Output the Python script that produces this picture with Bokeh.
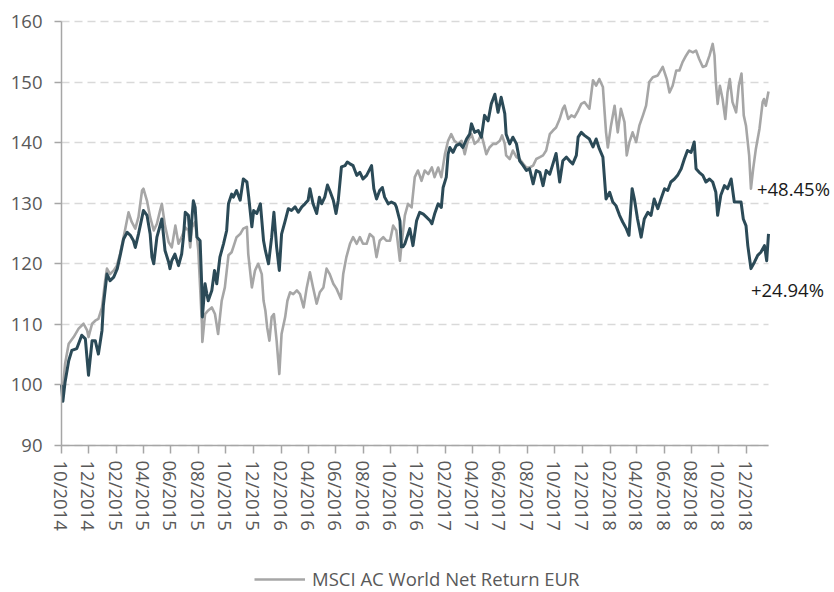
import pandas as pd
from bokeh.plotting import figure
from bokeh.models import (Range1d, FixedTicker, DatetimeTickFormatter, Legend,
                          LegendItem, Label, ColumnDataSource)
from bokeh.embed import file_html
from bokeh.resources import INLINE

# ---------------- data ----------------
dark_dates = [
    "2014-10-01", "2014-10-04", "2014-10-09", "2014-10-17", "2014-10-24", "2014-11-04", "2014-11-15",
    "2014-11-23", "2014-11-30", "2014-12-08", "2014-12-15", "2014-12-22", "2014-12-30", "2015-01-02",
    "2015-01-10", "2015-01-17", "2015-01-25", "2015-02-02", "2015-02-09", "2015-02-16", "2015-02-24",
    "2015-03-03", "2015-03-10", "2015-03-14", "2015-03-21", "2015-03-29", "2015-04-01", "2015-04-09",
    "2015-04-16", "2015-04-20", "2015-04-24", "2015-05-01", "2015-05-08", "2015-05-12", "2015-05-19",
    "2015-05-27", "2015-05-30", "2015-06-03", "2015-06-10", "2015-06-18", "2015-06-25", "2015-06-29",
    "2015-07-03", "2015-07-10", "2015-07-14", "2015-07-18", "2015-07-21", "2015-07-25", "2015-07-29",
    "2015-08-05", "2015-08-09", "2015-08-10", "2015-08-16", "2015-08-20", "2015-08-23", "2015-08-31",
    "2015-09-06", "2015-09-11", "2015-09-18", "2015-09-26", "2015-10-03", "2015-10-07", "2015-10-14",
    "2015-10-18", "2015-10-25", "2015-11-02", "2015-11-09", "2015-11-17", "2015-11-21", "2015-11-28",
    "2015-12-02", "2015-12-09", "2015-12-17", "2015-12-24", "2015-12-28", "2016-01-04", "2016-01-11",
    "2016-01-16", "2016-01-22", "2016-01-28", "2016-02-02", "2016-02-10", "2016-02-17", "2016-02-24",
    "2016-03-03", "2016-03-10", "2016-03-18", "2016-03-25", "2016-04-01", "2016-04-05", "2016-04-12",
    "2016-04-20", "2016-04-26", "2016-05-01", "2016-05-08", "2016-05-14", "2016-05-19", "2016-05-27",
    "2016-06-02", "2016-06-07", "2016-06-14", "2016-06-22", "2016-06-27", "2016-07-03", "2016-07-10",
    "2016-07-18", "2016-07-25", "2016-08-01", "2016-08-09", "2016-08-20", "2016-08-25", "2016-08-31",
    "2016-09-07", "2016-09-13", "2016-09-18", "2016-09-26", "2016-10-03", "2016-10-11", "2016-10-14",
    "2016-10-22", "2016-10-25", "2016-10-29", "2016-11-02", "2016-11-09", "2016-11-13", "2016-11-20",
    "2016-11-28", "2016-12-05", "2016-12-13", "2016-12-20", "2016-12-28", "2017-01-01", "2017-01-07",
    "2017-01-15", "2017-01-22", "2017-01-26", "2017-02-02", "2017-02-06", "2017-02-10", "2017-02-17",
    "2017-02-24", "2017-03-04", "2017-03-11", "2017-03-19", "2017-03-26", "2017-03-30", "2017-04-06",
    "2017-04-14", "2017-04-21", "2017-04-28", "2017-05-06", "2017-05-13", "2017-05-21", "2017-05-28",
    "2017-06-04", "2017-06-12", "2017-06-15", "2017-06-23", "2017-06-30", "2017-07-08", "2017-07-15",
    "2017-07-23", "2017-07-30", "2017-08-06", "2017-08-14", "2017-08-21", "2017-08-29", "2017-09-05",
    "2017-09-12", "2017-09-20", "2017-09-27", "2017-10-04", "2017-10-12", "2017-10-19", "2017-10-27",
    "2017-11-03", "2017-11-10", "2017-11-18", "2017-11-22", "2017-11-29", "2017-12-06", "2017-12-17",
    "2017-12-25", "2018-01-01", "2018-01-08", "2018-01-16", "2018-01-23", "2018-01-31", "2018-02-07",
    "2018-02-14", "2018-02-22", "2018-03-01", "2018-03-09", "2018-03-15", "2018-03-22", "2018-03-27",
    "2018-04-03", "2018-04-11", "2018-04-18", "2018-04-26", "2018-05-03", "2018-05-10", "2018-05-18",
    "2018-05-25", "2018-06-02", "2018-06-09", "2018-06-16", "2018-06-24", "2018-07-01", "2018-07-09",
    "2018-07-16", "2018-07-23", "2018-07-31", "2018-08-07", "2018-08-11", "2018-08-18", "2018-08-26",
    "2018-09-02", "2018-09-10", "2018-09-17", "2018-09-24", "2018-09-28", "2018-10-05", "2018-10-13",
    "2018-10-20", "2018-10-28", "2018-11-04", "2018-11-11", "2018-11-19", "2018-11-24", "2018-11-30",
    "2018-12-04", "2018-12-11", "2018-12-19", "2018-12-26", "2019-01-02", "2019-01-10", "2019-01-15",
    "2019-01-19",
]
dark_values = [
    100.0, 97.3, 100.5, 104.0, 105.7, 106.0, 108.2,
    107.6, 101.6, 107.3, 107.3, 105.1, 109.0, 113.1,
    118.3, 117.2, 117.8, 119.2, 121.6, 124.1, 125.2,
    124.7, 123.8, 122.7, 124.9, 127.7, 128.8, 128.0,
    124.9, 121.1, 120.0, 124.4, 126.3, 127.4, 122.2,
    120.3, 119.2, 120.5, 121.6, 119.7, 121.6, 124.4,
    128.5, 128.0, 123.8, 127.7, 130.4, 129.3, 124.4,
    123.8, 115.6, 111.2, 116.7, 115.0, 113.9, 115.6,
    118.9, 116.7, 121.1, 123.3, 125.5, 129.9, 131.5,
    131.0, 132.1, 130.5, 134.0, 133.5, 131.0, 126.1,
    128.8, 128.3, 129.9, 123.8, 122.2, 120.0, 124.4,
    128.5, 122.8, 118.9, 124.9, 127.1, 129.1, 128.8,
    129.4, 128.5, 129.4, 129.9, 130.5, 132.4, 129.9,
    128.3, 131.0, 129.9, 131.0, 133.0, 132.1, 130.5,
    128.3, 130.5, 136.0, 136.2, 136.8, 136.5, 136.2,
    134.6, 135.1, 134.0, 134.6, 136.2, 132.4, 130.7,
    132.1, 132.6, 131.0, 129.9, 130.2, 129.9, 129.4,
    127.1, 122.8, 122.8, 123.3, 124.9, 125.8, 123.0,
    127.1, 128.5, 128.2, 127.7, 127.1, 126.6, 128.2,
    129.9, 129.3, 132.6, 134.3, 138.1, 139.2, 138.4,
    139.5, 139.8, 139.2, 140.6, 141.4, 143.1, 141.7,
    142.0, 140.9, 144.5, 143.6, 146.4, 148.0, 145.0,
    147.5, 144.8, 141.4, 139.8, 140.9, 139.8, 137.0,
    136.2, 135.4, 135.7, 133.2, 135.4, 135.1, 132.9,
    135.4, 134.8, 136.5, 138.2, 133.5, 137.0, 137.6,
    137.0, 136.5, 137.9, 140.9, 141.7, 141.2, 140.6,
    139.3, 140.6, 139.0, 137.6, 130.7, 131.8, 130.2,
    129.6, 128.0, 126.9, 125.8, 124.7, 132.4, 130.7,
    127.4, 124.4, 127.4, 128.5, 128.0, 130.7, 129.1,
    130.7, 132.4, 132.1, 133.5, 134.0, 134.6, 135.7,
    137.3, 138.7, 138.4, 140.1, 135.7, 135.1, 134.6,
    133.5, 134.0, 133.5, 131.8, 128.0, 131.3, 132.9,
    132.4, 134.0, 130.2, 130.2, 130.2, 127.4, 126.3,
    123.0, 119.2, 120.3, 121.4, 121.9, 123.0, 120.5,
    124.94,
]

grey_dates = [
    "2014-10-01", "2014-10-04", "2014-10-09", "2014-10-17", "2014-10-28", "2014-11-08", "2014-11-19",
    "2014-11-27", "2014-11-30", "2014-12-08", "2014-12-15", "2014-12-22", "2014-12-30", "2015-01-06",
    "2015-01-10", "2015-01-17", "2015-01-25", "2015-02-01", "2015-02-08", "2015-02-19", "2015-02-27",
    "2015-03-06", "2015-03-14", "2015-03-21", "2015-03-29", "2015-04-01", "2015-04-09", "2015-04-16",
    "2015-04-24", "2015-05-01", "2015-05-08", "2015-05-12", "2015-05-19", "2015-05-27", "2015-06-03",
    "2015-06-11", "2015-06-18", "2015-06-25", "2015-07-03", "2015-07-10", "2015-07-14", "2015-07-18",
    "2015-07-25", "2015-08-01", "2015-08-09", "2015-08-10", "2015-08-16", "2015-08-23", "2015-08-31",
    "2015-09-07", "2015-09-14", "2015-09-22", "2015-09-29", "2015-10-07", "2015-10-14", "2015-10-18",
    "2015-10-25", "2015-11-02", "2015-11-09", "2015-11-17", "2015-11-20", "2015-11-28", "2015-12-05",
    "2015-12-12", "2015-12-20", "2015-12-24", "2015-12-28", "2016-01-01", "2016-01-06", "2016-01-11",
    "2016-01-16", "2016-01-22", "2016-01-28", "2016-02-02", "2016-02-10", "2016-02-15", "2016-02-21",
    "2016-02-28", "2016-03-07", "2016-03-14", "2016-03-22", "2016-03-29", "2016-04-05", "2016-04-12",
    "2016-04-20", "2016-04-27", "2016-05-05", "2016-05-12", "2016-05-19", "2016-05-27", "2016-06-03",
    "2016-06-13", "2016-06-18", "2016-06-25", "2016-07-03", "2016-07-10", "2016-07-18", "2016-07-25",
    "2016-08-01", "2016-08-09", "2016-08-16", "2016-08-24", "2016-08-31", "2016-09-07", "2016-09-15",
    "2016-09-22", "2016-09-30", "2016-10-07", "2016-10-14", "2016-10-22", "2016-10-25", "2016-11-02",
    "2016-11-09", "2016-11-17", "2016-11-24", "2016-12-01", "2016-12-09", "2016-12-16", "2016-12-24",
    "2017-01-01", "2017-01-07", "2017-01-15", "2017-01-22", "2017-01-30", "2017-02-06", "2017-02-13",
    "2017-02-20", "2017-02-28", "2017-03-08", "2017-03-15", "2017-03-22", "2017-03-30", "2017-04-06",
    "2017-04-14", "2017-04-21", "2017-05-02", "2017-05-09", "2017-05-17", "2017-05-24", "2017-06-01",
    "2017-06-06", "2017-06-12", "2017-06-15", "2017-06-23", "2017-06-30", "2017-07-08", "2017-07-15",
    "2017-07-23", "2017-07-30", "2017-08-06", "2017-08-14", "2017-08-21", "2017-08-29", "2017-09-05",
    "2017-09-12", "2017-09-20", "2017-09-27", "2017-10-04", "2017-10-12", "2017-10-19", "2017-10-23",
    "2017-10-31", "2017-11-07", "2017-11-14", "2017-11-22", "2017-11-29", "2017-12-06", "2017-12-17",
    "2017-12-25", "2018-01-01", "2018-01-08", "2018-01-16", "2018-01-19", "2018-01-23", "2018-01-27",
    "2018-02-03", "2018-02-11", "2018-02-18", "2018-02-25", "2018-03-05", "2018-03-10", "2018-03-16",
    "2018-03-23", "2018-03-31", "2018-04-07", "2018-04-15", "2018-04-22", "2018-04-29", "2018-05-07",
    "2018-05-18", "2018-05-29", "2018-06-07", "2018-06-13", "2018-06-20", "2018-06-28", "2018-07-05",
    "2018-07-12", "2018-07-20", "2018-07-27", "2018-08-04", "2018-08-11", "2018-08-18", "2018-08-26",
    "2018-09-02", "2018-09-10", "2018-09-17", "2018-09-21", "2018-09-24", "2018-09-28", "2018-10-03",
    "2018-10-09", "2018-10-15", "2018-10-20", "2018-10-25", "2018-10-31", "2018-11-08", "2018-11-14",
    "2018-11-20", "2018-11-25", "2018-11-30", "2018-12-07", "2018-12-11", "2018-12-16", "2018-12-22",
    "2018-12-30", "2019-01-06", "2019-01-09", "2019-01-13", "2019-01-19",
]
grey_values = [
    100.0, 99.5, 103.5, 106.8, 107.9, 109.3, 110.1,
    109.0, 107.9, 110.1, 110.6, 110.9, 112.8, 117.2,
    119.2, 118.3, 118.9, 119.7, 121.6, 125.5, 128.5,
    126.9, 125.8, 127.7, 132.1, 132.4, 130.4, 127.7,
    125.5, 126.6, 128.8, 129.9, 126.3, 123.6, 122.7,
    126.3, 123.3, 124.4, 126.0, 125.5, 122.7, 126.0,
    126.9, 122.2, 110.1, 107.1, 111.7, 112.3, 112.8,
    111.7, 108.4, 113.9, 116.1, 121.4, 121.9, 122.8,
    124.4, 124.9, 125.8, 126.1, 121.6, 116.1, 118.9,
    120.0, 118.3, 113.9, 112.3, 109.5, 107.3, 111.2,
    111.7, 107.3, 101.8, 108.4, 111.2, 113.9, 115.3,
    115.0, 115.6, 115.0, 112.8, 116.1, 118.6, 116.1,
    113.4, 115.3, 116.1, 119.2, 118.3, 116.7, 115.9,
    114.2, 118.3, 121.1, 123.3, 124.4, 123.3, 124.4,
    123.3, 123.3, 124.9, 124.4, 121.1, 123.8, 124.4,
    123.8, 123.8, 126.3, 125.5, 120.5, 122.8, 128.0,
    129.9, 129.3, 134.3, 135.4, 133.7, 135.4, 134.8,
    135.9, 134.3, 135.9, 134.3, 138.1, 140.3, 141.4,
    140.3, 139.8, 140.3, 138.1, 140.3, 141.4, 139.8,
    140.3, 141.4, 138.1, 139.2, 139.8, 139.8, 140.3,
    141.2, 139.8, 137.9, 137.3, 138.7, 137.6, 137.3,
    136.5, 135.9, 135.9, 136.2, 137.3, 137.6, 137.9,
    138.7, 141.4, 142.0, 142.5, 143.9, 145.6, 146.1,
    143.9, 144.5, 144.2, 145.3, 146.4, 146.7, 145.6,
    150.3, 149.4, 150.5, 149.2, 145.9, 141.7, 139.2,
    142.8, 146.1, 141.7, 145.6, 143.4, 137.9, 140.1,
    141.7, 140.1, 142.8, 144.5, 146.1, 150.0, 150.8,
    151.1, 152.5, 150.5, 148.3, 149.4, 151.9, 151.9,
    153.3, 154.4, 155.2, 154.9, 155.2, 153.8, 152.5,
    152.7, 154.4, 156.3, 154.4, 150.0, 146.4, 149.4,
    147.2, 143.9, 148.3, 150.5, 146.7, 145.0, 149.4,
    151.4, 144.5, 142.8, 137.9, 132.4, 135.7, 139.0,
    142.3, 146.7, 147.2, 146.1, 148.45,
]

x_tick_dates = [
    "2014-10-01", "2014-12-01", "2015-02-01", "2015-04-01", "2015-06-01", "2015-08-01",
    "2015-10-01", "2015-12-01", "2016-02-01", "2016-04-01", "2016-06-01", "2016-08-01",
    "2016-10-01", "2016-12-01", "2017-02-01", "2017-04-01", "2017-06-01", "2017-08-01",
    "2017-10-01", "2017-12-01", "2018-02-01", "2018-04-01", "2018-06-01", "2018-08-01",
    "2018-10-01", "2018-12-01",
]
y_ticks = [90, 100, 110, 120, 130, 140, 150, 160]
legend_label = "MSCI AC World Net Return EUR"
annot_date = "2018-12-11"

# ---------------- layout / styling ----------------
W, H = 834, 592
AX_LEFT, AX_TOP = 61, 21            # pixel position of the axes box (dates x 90..160)
AX_W, AX_H = 707, 424
FONT = "Open Sans"
FS = "18.5px"
AXIS_TXT = "#595959"
AXIS_LINE = "#A6A6A6"
GREY = "#A6A6A6"
DARK = "#2B4A57"


def ms(d):
    return pd.Timestamp(d).value / 1e6


start_ms = ms(dark_dates[0])
last_ms = ms(dark_dates[-1])
y_lo, y_hi = y_ticks[0], y_ticks[-1]
# the frame fills the whole canvas (so nothing is clipped); the visible axes are
# placed with fixed_location and limited with bounds
x_per_px = (last_ms - start_ms) / AX_W
y_per_px = (y_hi - y_lo) / AX_H
x_range = Range1d(start_ms - AX_LEFT * x_per_px, start_ms + (W - AX_LEFT) * x_per_px)
y_range = Range1d(y_lo - (H - AX_TOP - AX_H) * y_per_px, y_hi + AX_TOP * y_per_px)

dark_src = ColumnDataSource(dict(x=pd.to_datetime(dark_dates), y=dark_values))
grey_src = ColumnDataSource(dict(x=pd.to_datetime(grey_dates), y=grey_values))

p = figure(width=W, height=H, x_axis_type="datetime", x_range=x_range, y_range=y_range,
           output_backend="svg", toolbar_location=None, min_border=0)
p.outline_line_color = None
p.background_fill_color = "white"
p.border_fill_color = "white"

grey_r = p.line("x", "y", source=grey_src, line_color=GREY, line_width=2.6, line_join="round")
dark_r = p.line("x", "y", source=dark_src, line_color=DARK, line_width=3, line_join="round")

# axes
p.xaxis.ticker = FixedTicker(ticks=[ms(d) for d in x_tick_dates])
fmt = "%m/%Y"
p.xaxis.formatter = DatetimeTickFormatter(days=fmt, months=fmt, years=fmt, hours=fmt,
                                          hourmin=fmt, minutes=fmt, minsec=fmt, seconds=fmt,
                                          milliseconds=fmt, microseconds=fmt)
p.xaxis.major_label_orientation = "vertical"
p.xaxis.bounds = (start_ms, last_ms)
p.xaxis.fixed_location = y_lo
p.yaxis.ticker = FixedTicker(ticks=y_ticks)
p.yaxis.bounds = (y_lo, y_hi)
p.yaxis.fixed_location = start_ms

for ax in (p.xaxis, p.yaxis):
    ax.axis_line_color = AXIS_LINE
    ax.axis_line_width = 1.5
    ax.major_tick_line_color = AXIS_LINE
    ax.major_tick_line_width = 1.5
    ax.major_tick_in = 0
    ax.minor_tick_line_color = None
    ax.major_label_text_font = FONT
    ax.major_label_text_font_size = FS
    ax.major_label_text_color = AXIS_TXT
p.xaxis.major_tick_out = 8
p.xaxis.major_label_standoff = 7
p.yaxis.major_tick_out = 7
p.yaxis.major_label_standoff = 12

p.xgrid.visible = False
p.ygrid.grid_line_color = "#D9D9D9"
p.ygrid.grid_line_width = 1.5
p.ygrid.grid_line_dash = "8 5"
p.ygrid.cross_bounds = (start_ms, last_ms)

# end-value annotations
grey_i = grey_dates.index(annot_date)
dark_i = dark_dates.index(annot_date)
p.add_layout(Label(x=ms(annot_date), y=grey_values[grey_i],
                   text="+%.2f%%" % (grey_values[-1] - 100),
                   x_offset=6, y_offset=0, text_baseline="middle", text_align="left",
                   text_font=FONT, text_font_size=FS, text_color="#1A1A1A"))
p.add_layout(Label(x=ms(annot_date), y=dark_values[dark_i],
                   text="+%.2f%%" % (dark_values[-1] - 100),
                   x_offset=0, y_offset=-21, text_baseline="middle", text_align="left",
                   text_font=FONT, text_font_size=FS, text_color="#1A1A1A"))

legend = Legend(items=[LegendItem(label=legend_label, renderers=[grey_r])],
                location=(254, 1), orientation="horizontal",
                border_line_color=None, background_fill_alpha=0,
                glyph_width=51, glyph_height=16, label_height=16, label_standoff=7,
                padding=0, margin=0, spacing=0,
                label_text_font=FONT, label_text_font_size=FS,
                label_text_color=AXIS_TXT)
p.add_layout(legend)

open("out.html", "w").write(file_html(p, INLINE))
